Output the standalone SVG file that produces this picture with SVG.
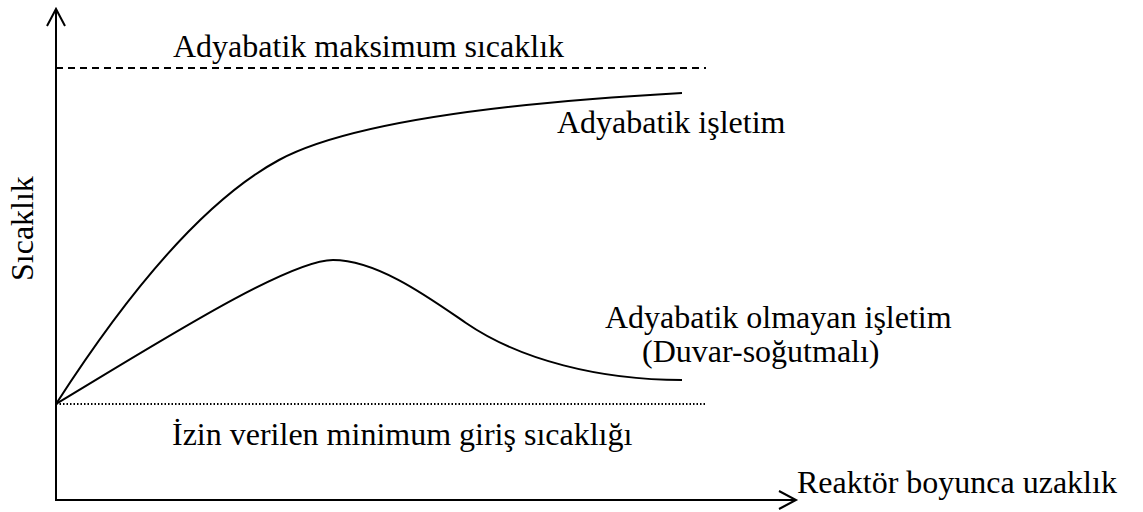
<svg xmlns="http://www.w3.org/2000/svg" width="1143" height="512" viewBox="0 0 1143 512">
<style>
text{font-family:'Liberation Serif','Times New Roman',serif;font-size:32px;fill:#000}
.ln{fill:none;stroke:#000;stroke-width:2}
</style>
<rect width="1143" height="512" fill="#fff"/>
<g id="axes">
<path class="ln" d="M56,501 V9 M47,26 L56,9 L65,26"/>
<path class="ln" d="M55,500 H796 M779,491 L796,500 L779,509"/>
<text x="33" y="281" transform="rotate(-90 33 281)">Sıcaklık</text>
<text x="797" y="493">Reaktör boyunca uzaklık</text>
</g>
<g id="connectors">
<path class="ln" d="M56,68 H706" stroke-dasharray="7,5"/>
<path class="ln" d="M56,404 H706" stroke-width="1.5" stroke-dasharray="1.5,2"/>
<path class="ln" d="M56,404 C130,289 205,200 279,160 C344,125 482,104 682,93"/>
<path class="ln" d="M56,404 C156,344 288,260 333,260 C378,260 431,299 466,323 C520,360 600,380 682,380"/>
</g>
<g id="labels">
<text x="173" y="57">Adyabatik maksimum sıcaklık</text>
<text x="557" y="133">Adyabatik işletim</text>
<text x="605" y="328">Adyabatik olmayan işletim</text>
<text x="642" y="362">(Duvar-soğutmalı)</text>
<text x="172" y="445">İzin verilen minimum giriş sıcaklığı</text>
</g>
</svg>
